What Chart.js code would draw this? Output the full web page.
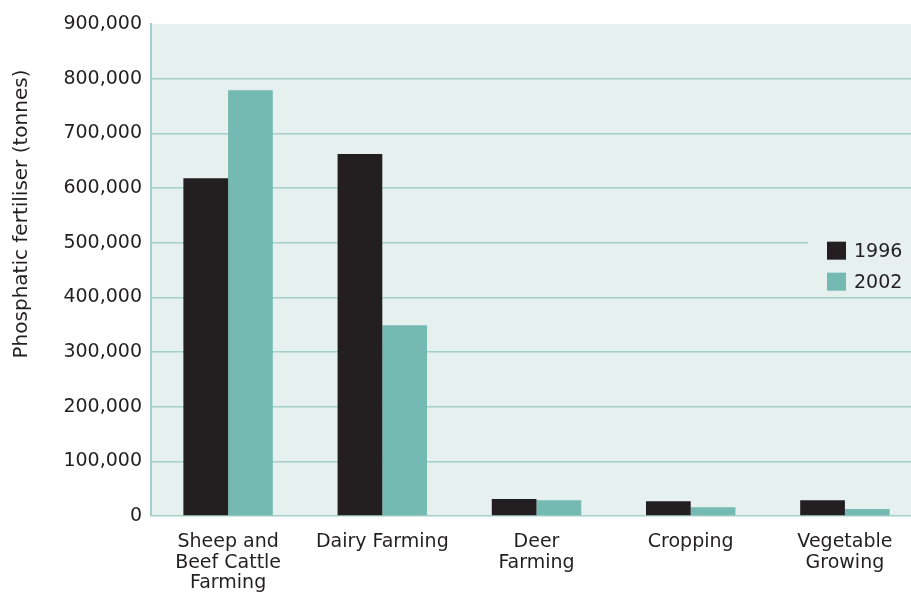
<!DOCTYPE html>
<html>
<head>
<meta charset="utf-8">
<script src="https://cdn.jsdelivr.net/npm/chart.js@4"></script>
<style>
  html, body { margin: 0; padding: 0; background: #fff; overflow: hidden; }
  #wrap { width: 922px; height: 592px; }
</style>
</head>
<body>
<div id="wrap"><canvas id="myChart"></canvas></div>
<script>
const categories = [
  ["Sheep and", "Beef Cattle", "Farming"],
  "Dairy Farming",
  ["Deer", "Farming"],
  "Cropping",
  ["Vegetable", "Growing"]
];
const values1996 = [618000, 662000, 31000, 27000, 29000];
const values2002 = [779000, 349000, 29000, 16000, 13000];
const seriesNames = ["1996", "2002"];
const yTitle = 'Phosphatic fertiliser (tonnes)';

const plotBg = '#e6f0ee';
const gridTeal = '#a3d0ca';
const ink = '#231f20';
const fontFam = '"DejaVu Sans", sans-serif';

// light green panel behind the bars
const panelBg = {
  id: 'panelBg',
  beforeDraw(chart) {
    const { ctx, chartArea: a } = chart;
    ctx.save();
    ctx.fillStyle = plotBg;
    ctx.fillRect(a.left, a.top, a.right - a.left, a.bottom - a.top);
    ctx.restore();
  }
};

// y title sits a bit above the middle in the original
const sideTitle = {
  id: 'sideTitle',
  afterDraw(chart) {
    const { ctx } = chart;
    ctx.save();
    ctx.translate(22, 214);
    ctx.rotate(-Math.PI / 2);
    ctx.font = '20px ' + fontFam;
    ctx.fillStyle = ink;
    ctx.textAlign = 'center';
    ctx.textBaseline = 'middle';
    ctx.fillText(yTitle, 0, 0);
    ctx.restore();
  }
};

// legend sitting inside the plot, right side
const insideLegend = {
  id: 'insideLegend',
  afterDraw(chart) {
    const { ctx, chartArea: a } = chart;
    const y = chart.scales.y;
    const top = y.getPixelForValue(500000) - 8;
    const x0 = 808;
    ctx.save();
    ctx.fillStyle = plotBg;
    ctx.fillRect(x0, top, a.right - x0, 62);
    ctx.font = '19px ' + fontFam;
    ctx.textBaseline = 'middle';
    chart.data.datasets.forEach((ds, i) => {
      const by = top + 7 + i * 31;
      ctx.fillStyle = ds.backgroundColor;
      ctx.fillRect(827, by, 19, 18);
      ctx.fillStyle = ink;
      ctx.fillText(ds.label, 854, by + 10);
    });
    ctx.restore();
  }
};

const data = {
  labels: categories,
  datasets: [
    { label: seriesNames[0], data: values1996, backgroundColor: ink },
    { label: seriesNames[1], data: values2002, backgroundColor: '#74b9b2' }
  ]
};

const config = {
  type: 'bar',
  data: data,
  options: {
    responsive: true,
    maintainAspectRatio: false,
    animation: false,
    layout: { padding: { top: 24, left: 0, right: 0, bottom: 0 } },
    datasets: {
      bar: { categoryPercentage: 0.58, barPercentage: 1.0 }
    },
    plugins: {
      legend: { display: false },
      tooltip: { enabled: false }
    },
    scales: {
      x: {
        grid: { display: false, drawTicks: false },
        border: { display: false },
        ticks: {
          color: ink,
          font: { family: fontFam, size: 19, lineHeight: 1.08 },
          padding: 16,
          maxRotation: 0,
          autoSkip: false
        },
        afterFit(s) { s.height = 76; }
      },
      y: {
        min: 0,
        max: 900000,
        ticks: {
          stepSize: 100000,
          color: ink,
          padding: 9,
          font: { family: fontFam, size: 19 },
          callback: v => v.toLocaleString('en-US')
        },
        grid: {
          drawTicks: false,
          lineWidth: 1.5,
          color: c => c.tick && c.tick.value === 900000 ? 'rgba(0,0,0,0)' : gridTeal
        },
        border: { color: gridTeal, width: 2 },
        afterFit(s) { s.width = 151; }
      }
    }
  },
  plugins: [panelBg, sideTitle, insideLegend]
};

new Chart(document.getElementById("myChart"), config);
</script>
</body>
</html>
